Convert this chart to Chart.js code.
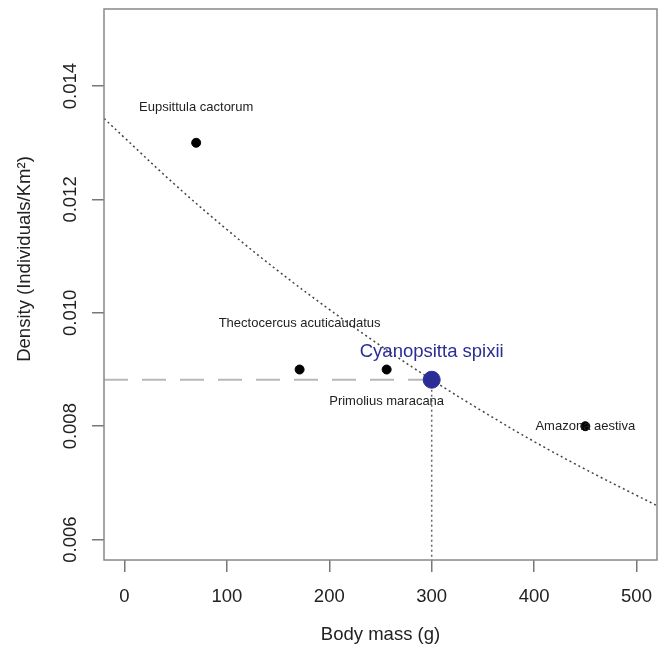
<!DOCTYPE html>
<html>
<head>
<meta charset="utf-8">
<script src="https://cdn.jsdelivr.net/npm/chart.js@4"></script>
<style>
  html, body { margin: 0; padding: 0; background: #fff; }
  #wrap { width: 662px; height: 646px; }
</style>
</head>
<body>
<div id="wrap"><canvas id="myChart"></canvas></div>
<script>
// species points
const species = ["Eupsittula cactorum", "Thectocercus acuticaudatus", "Primolius maracana", "Amazona aestiva"];
const bodyMass = [70, 171, 256, 450];
const density = [0.013, 0.009, 0.009, 0.008];

// estimated species
const targetName = "Cyanopsitta spixii";
const targetMass = [300];
const targetDensity = [0.00882];

// fitted curve
const curveMass = [-20, 0, 50, 100, 150, 200, 250, 300, 350, 400, 450, 500, 520];
const curveDensity = [0.01343, 0.01309, 0.01225, 0.01147, 0.01074, 0.01006, 0.00942, 0.00882, 0.00826, 0.00773, 0.00724, 0.00678, 0.0066];

// axes
const xTicks = [0, 100, 200, 300, 400, 500];
const yTicks = [0.006, 0.008, 0.01, 0.012, 0.014];
const xMin = -20, xMax = 520;
const yMin = 0.00564, yMax = 0.01536;

// label offsets (px) for the species names
const labelDy = [-35, -46, 32, 0];
const targetLabelDy = -28;

const fontFam = "'Liberation Sans', Arial, Helvetica, sans-serif";
const textColor = "#222";
const blue = "#2b2d96";

const rPlot = {
  id: "rPlot",
  afterDraw(chart) {
    const ctx = chart.ctx;
    const a = chart.chartArea;
    const xs = chart.scales.x;
    const ys = chart.scales.y;
    ctx.save();
    // box
    ctx.strokeStyle = "#888";
    ctx.lineWidth = 1.5;
    ctx.strokeRect(a.left, a.top, a.right - a.left, a.bottom - a.top);

    // y tick labels, rotated like R
    ctx.fillStyle = textColor;
    ctx.font = "18.5px " + fontFam;
    ctx.textAlign = "center";
    ctx.textBaseline = "middle";
    yTicks.forEach((v) => {
      const py = ys.getPixelForValue(v);
      ctx.save();
      ctx.translate(71, py);
      ctx.rotate(-Math.PI / 2);
      ctx.fillText(v.toFixed(3), 0, 0);
      ctx.restore();
    });

    // y title
    ctx.save();
    ctx.translate(25, 259);
    ctx.rotate(-Math.PI / 2);
    ctx.fillText("Density (Individuals/Km²)", 0, 0);
    ctx.restore();

    // species names
    ctx.font = "13px " + fontFam;
    species.forEach((name, i) => {
      const px = xs.getPixelForValue(bodyMass[i]);
      const py = ys.getPixelForValue(density[i]);
      ctx.fillText(name, px, py + labelDy[i]);
    });
    ctx.fillStyle = blue;
    ctx.font = "18.5px " + fontFam;
    ctx.fillText(targetName, xs.getPixelForValue(targetMass[0]), ys.getPixelForValue(targetDensity[0]) + targetLabelDy);
    ctx.restore();
  },
};

const ctx = document.querySelector("#myChart").getContext("2d");
const myChart = new Chart(ctx, {
  type: "scatter",
  data: {
    datasets: [
      {
        label: targetName,
        data: targetMass.map((m, i) => ({ x: m, y: targetDensity[i] })),
        backgroundColor: blue,
        borderColor: blue,
        pointRadius: 8.5,
        order: 0,
      },
      {
        label: "species",
        data: bodyMass.map((m, i) => ({ x: m, y: density[i] })),
        backgroundColor: "#000",
        borderColor: "#000",
        pointRadius: 4.5,
        order: 1,
      },
      {
        label: "h line",
        type: "line",
        data: [{ x: xMin, y: targetDensity[0] }, { x: targetMass[0], y: targetDensity[0] }],
        borderColor: "#b8b8b8",
        borderWidth: 2,
        borderDash: [24, 14],
        pointRadius: 0,
        order: 2,
      },
      {
        label: "v line",
        type: "line",
        data: [{ x: targetMass[0], y: targetDensity[0] }, { x: targetMass[0], y: yMin }],
        borderColor: "#666",
        borderWidth: 1.5,
        borderDash: [2, 3],
        pointRadius: 0,
        order: 3,
      },
      {
        label: "fit",
        type: "line",
        data: curveMass.map((m, i) => ({ x: m, y: curveDensity[i] })),
        borderColor: "#444",
        borderWidth: 1.5,
        borderDash: [2, 3],
        pointRadius: 0,
        tension: 0.4,
        order: 4,
      },
    ],
  },
  options: {
    responsive: true,
    maintainAspectRatio: false,
    animation: false,
    layout: { autoPadding: false, padding: { left: 0, right: 5, top: 9, bottom: 0 } },
    plugins: {
      legend: { display: false },
      tooltip: { enabled: false },
    },
    scales: {
      x: {
        type: "linear",
        min: xMin,
        max: xMax,
        afterBuildTicks: (s) => {
          s.ticks = xTicks.map((v) => ({ value: v }));
        },
        afterFit: (s) => {
          s.height = 86;
          s.paddingLeft = 0;
          s.paddingRight = 0;
        },
        grid: { drawOnChartArea: false, drawTicks: true, tickLength: 12, color: "#777", lineWidth: 1.5 },
        border: { display: false },
        ticks: {
          font: { size: 18.5, family: fontFam },
          color: textColor,
          padding: 14,
          maxRotation: 0,
          callback: (v) => String(v),
        },
        title: {
          display: true,
          text: "Body mass (g)",
          font: { size: 18.5, family: fontFam },
          color: textColor,
          padding: 0,
        },
      },
      y: {
        type: "linear",
        min: yMin,
        max: yMax,
        afterBuildTicks: (s) => {
          s.ticks = yTicks.map((v) => ({ value: v }));
        },
        afterFit: (s) => {
          s.width = 104;
          s.paddingTop = 0;
          s.paddingBottom = 0;
        },
        grid: { drawOnChartArea: false, drawTicks: true, tickLength: 12, color: "#777", lineWidth: 1.5 },
        border: { display: false },
        ticks: { display: false },
      },
    },
  },
  plugins: [rPlot],
});
</script>
</body>
</html>
